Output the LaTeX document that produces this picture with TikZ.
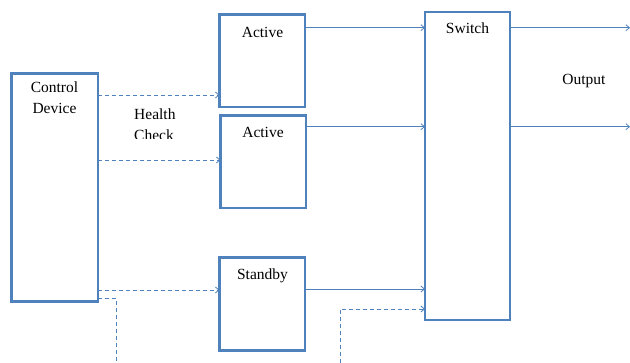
\documentclass[tikz,border=0pt]{standalone}
\usepackage{fontspec}
\setmainfont{Liberation Serif}
\usetikzlibrary{arrows.meta}
\definecolor{boxblue}{RGB}{79,129,189}
\begin{document}
\begin{tikzpicture}[x=1pt,y=-1pt,
  unit/.style={draw=boxblue,line width=2.6pt,inner sep=0pt,outer sep=0pt,anchor=north west},
  lbl/.style={inner sep=0pt,anchor=base,font=\fontsize{15.5}{18}\selectfont},
  sig/.style={draw=boxblue,line width=0.9pt,-{Straight Barb[length=3.5pt,width=6pt,line width=0.8pt]}},
  probe/.style={sig,dash pattern=on 4pt off 3pt},
  probeline/.style={draw=boxblue,line width=0.9pt,dash pattern=on 4pt off 3pt}]
\useasboundingbox (0,0) rectangle (630,363);

% units
\node[unit,minimum width=86.5pt,minimum height=228pt] (ctrl) at (11.5,73.5) {};
\node[unit,minimum width=85.5pt,minimum height=92.5pt] (act1) at (219.5,14.5) {};
\node[unit,minimum width=85.5pt,minimum height=92.5pt] (act2) at (220.5,115.5) {};
\node[unit,minimum width=85.5pt,minimum height=93pt] (stby) at (219.5,257.5) {};
\node[unit,minimum width=85pt,minimum height=308pt] (sw) at (425,12) {};

% labels
\node[lbl] (tctrl) at (54.5,93) {Control};
\node[lbl] (tdev) at (54.5,114) {Device};
\node[lbl] (tact1) at (262.5,38) {Active};
\node[lbl] (tact2) at (263,138) {Active};
\node[lbl] (tstby) at (262.5,280) {Standby};
\node[lbl] (tsw) at (467.5,34) {Switch};
\node[lbl] (tout) at (584,85) {Output};
\node[lbl,anchor=base west] (thealth) at (134,120) {Health};
\begin{scope}
  % the lower line of this label is cut off by its text frame
  \clip (120,125) rectangle (200,138.5);
  \node[lbl,anchor=base west] (tcheck) at (134,141) {Check};
\end{scope}

% free ends of the lines that leave the picture
\coordinate (outA) at (630,27.7);
\coordinate (outB) at (630,126.7);
\coordinate (downL) at (116,363);
\coordinate (upR) at (340,363);

% health-check probes
\draw[probe] (ctrl.east |- 0,95) -- (act1.west |- 0,95);
\draw[probe] (ctrl.east |- 0,160) -- (act2.west |- 0,160);
\draw[probe] (ctrl.east |- 0,290) -- (stby.west |- 0,290);
\draw[probeline] (ctrl.east |- 0,298.5) -| (downL);
\draw[probe] (upR) |- (sw.west |- 0,309);

% data paths
\draw[sig] (act1.east |- 0,27.7) -- (sw.west |- 0,27.7);
\draw[sig] (act2.east |- 0,126.7) -- (sw.west |- 0,126.7);
\draw[sig] (stby.east |- 0,289) -- (sw.west |- 0,289);
\draw[sig] (sw.east |- outA) -- (outA);
\draw[sig] (sw.east |- outB) -- (outB);
\end{tikzpicture}
\end{document}
